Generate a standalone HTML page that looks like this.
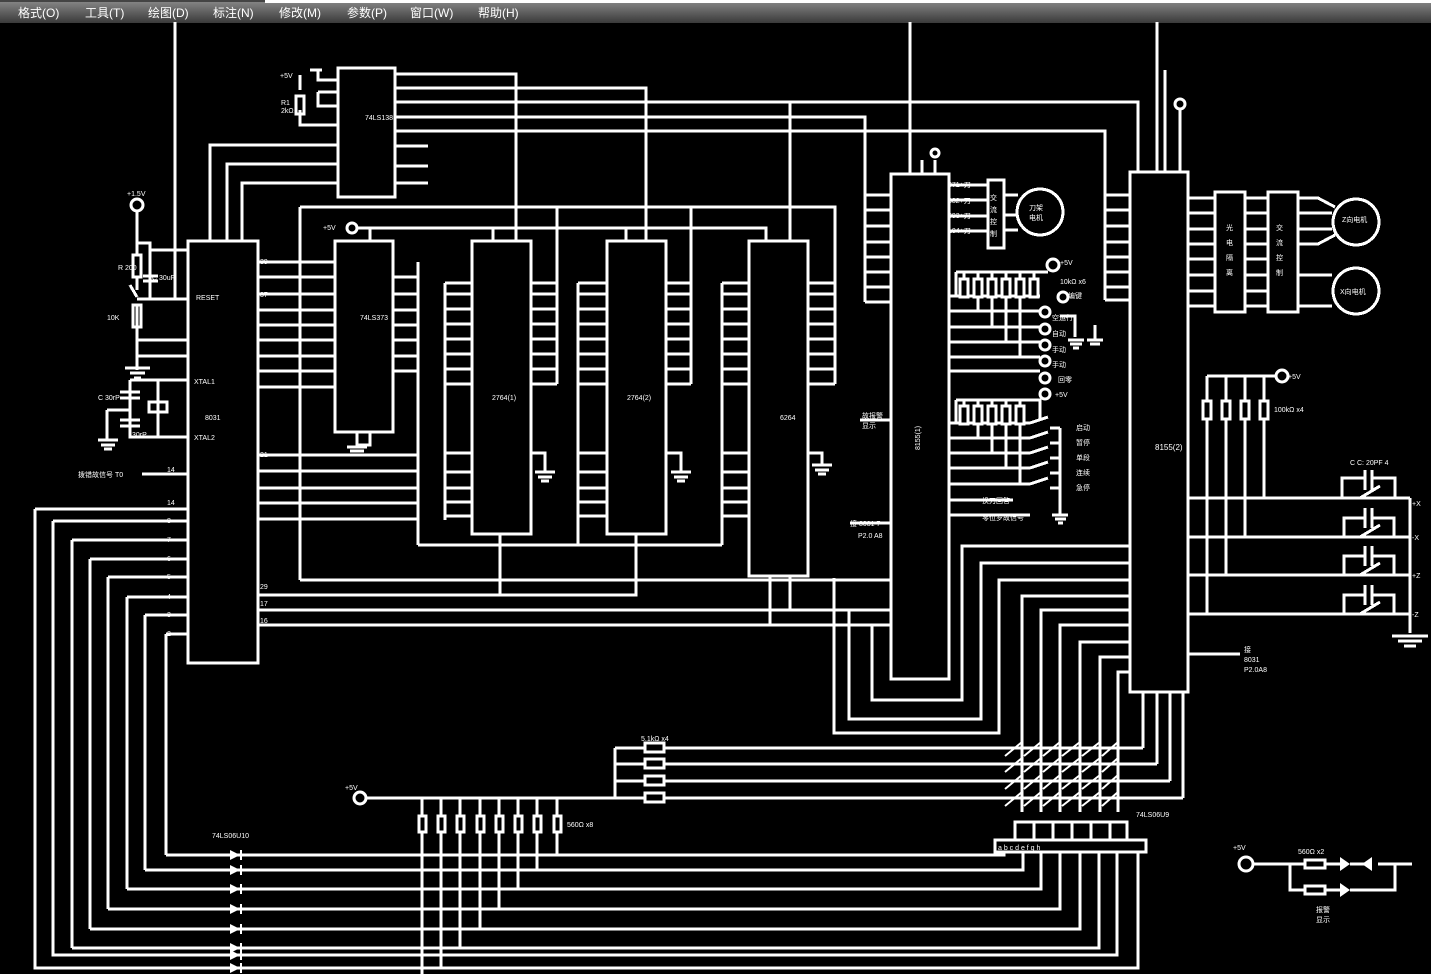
<!DOCTYPE html>
<html><head><meta charset="utf-8"><style>
html,body{margin:0;padding:0;background:#000;width:1431px;height:974px;overflow:hidden}
svg{display:block}
text{font-family:"Liberation Sans","Noto Sans CJK SC",sans-serif;fill:#fff}
</style></head><body>
<svg width="1431" height="974" viewBox="0 0 1431 974" xmlns="http://www.w3.org/2000/svg">
<defs><linearGradient id="mb" x1="0" y1="0" x2="0" y2="1"><stop offset="0" stop-color="#8a8a8a"/><stop offset="1" stop-color="#3a3a3a"/></linearGradient></defs>
<rect x="0" y="0" width="1431" height="974" fill="#000"/>
<rect x="0" y="0" width="1431" height="23" fill="url(#mb)"/>
<rect x="0" y="0" width="265" height="2" fill="#444"/>
<rect x="265" y="0" width="1166" height="3" fill="#fff"/>
<g font-size="12" style="fill:#fff">
<text x="18" y="17">格式(O)</text><text x="85" y="17">工具(T)</text><text x="148" y="17">绘图(D)</text><text x="213" y="17">标注(N)</text><text x="279" y="17">修改(M)</text><text x="347" y="17">参数(P)</text><text x="410" y="17">窗口(W)</text><text x="478" y="17">帮助(H)</text>
</g>
<g stroke="#fff" stroke-width="3" fill="none" shape-rendering="crispEdges">
<rect x="188" y="241" width="70" height="422"/>
<rect x="338" y="68" width="57" height="129"/>
<rect x="335" y="241" width="58" height="191"/>
<rect x="472" y="241" width="59" height="293"/>
<rect x="607" y="241" width="59" height="293"/>
<rect x="749" y="241" width="59" height="335"/>
<rect x="891" y="174" width="58" height="505"/>
<rect x="1130" y="172" width="58" height="520"/>
<path d="M175 22V298M910 22V174M1157 22V172M922 160V174M935 160V174M1165 70V172M1180 110V172"/>
<path d="M137 211V243H150V299M137 243V255M137 277V290M130 285L137 297M137 305V327M137 327V370M137 340H188M137 356H188M137 299H188M150 250H188M125 368H150M130 373H145M134 378H141"/>
<rect x="133" y="255" width="8" height="22"/>
<rect x="133" y="305" width="8" height="22"/>
<path d="M143 276H158M143 281H158"/>
<path d="M130 380H188M130 380V437H188M158 380V437M120 392H140M120 398H140M120 420H140M120 426H140M107 410H130M107 410V440M98 440H118M101 445H115M104 449H112"/>
<rect x="149" y="402" width="18" height="10"/>
<path d="M142 474H188"/>
<path d="M210 241V145H338M227 241V164H338M242 241V183H338"/>
<path d="M338 80H318V70M338 92H318M338 106H318V92M338 125H300V110M300 90V80M300 80V75M310 70H322M395 74H516V241M395 88H646V241M395 102H1138V172M395 117H865V302M395 131H1105V300M395 146H428M395 166H428M395 183H428"/>
<rect x="296" y="96" width="8" height="18"/>
<path d="M258 262H335M258 277H335M258 294H335M258 310H335M258 325H335M258 340H335M258 356H335M258 371H335M258 387H335M300 207V580M300 207H835V384M300 580H891"/>
<path d="M258 455H418M258 471H418M258 488H418M258 503H418M258 519H418"/>
<path d="M358 228H766V241M370 228V241M493 228V241M626 228V241"/>
<path d="M357 432V445H370V432M347 447H367M350 451H364M353 455H361"/>
<path d="M393 277H418M393 294H418M393 310H418M393 325H418M393 340H418M393 356H418M393 371H418M418 262V545M418 545H722"/>
<path d="M445 283V520M445 283H472M445 294H472M445 309H472M445 324H472M445 339H472M445 354H472M445 369H472M445 384H472M445 453H472M445 472H472M445 488H472M445 502H472M445 516H472"/>
<path d="M531 283H557M531 294H557M531 309H557M531 324H557M531 339H557M531 354H557M531 369H557M531 384H557M557 207V384"/>
<path d="M531 453H545V472M535 472H555M538 477H552M541 481H549M500 534V595"/>
<path d="M578 283V545M578 283H607M578 294H607M578 309H607M578 324H607M578 339H607M578 354H607M578 369H607M578 384H607M578 453H607M578 472H607M578 488H607M578 502H607M578 516H607"/>
<path d="M666 283H691M666 294H691M666 309H691M666 324H691M666 339H691M666 354H691M666 369H691M666 384H691M691 207V384"/>
<path d="M666 453H681V472M671 472H691M674 477H688M677 481H685M636 534V595H258"/>
<path d="M722 283V545M722 283H749M722 294H749M722 309H749M722 324H749M722 339H749M722 354H749M722 369H749M722 384H749M722 453H749M722 472H749M722 488H749M722 502H749M722 516H749"/>
<path d="M808 283H835M808 294H835M808 309H835M808 324H835M808 339H835M808 354H835M808 369H835M808 384H835"/>
<path d="M808 453H822V465M812 465H832M815 470H829M818 474H826M790 102V241M770 576V625M790 576V610"/>
<path d="M258 610H891M258 625H891"/>
<path d="M865 195H891M865 210H891M865 226H891M865 242H891M865 257H891M865 272H891M865 287H891M865 302H891"/>
<path d="M834 578V733H999V580H1130M849 610V719H981V563H1130M872 625V700H962V546H1130"/>
<path d="M949 185H988M949 200H988M949 216H988M949 231H988M1004 195H1018M1004 215H1018M1004 230H1018"/>
<rect x="988" y="180" width="16" height="68"/>
<circle cx="1040" cy="212" r="23"/>
<path d="M949 296H1040M949 311H1040M949 327H1040M949 342H1040M949 357H1040M949 371H1040M956 272H1048M956 272V296"/>
<path d="M964 272V296M978 272V311M992 272V327M1006 272V342M1020 272V357M1034 272V296"/>
<rect x="960" y="279" width="8" height="18" fill="#000"/><rect x="974" y="279" width="8" height="18" fill="#000"/><rect x="988" y="279" width="8" height="18" fill="#000"/><rect x="1002" y="279" width="8" height="18" fill="#000"/><rect x="1016" y="279" width="8" height="18" fill="#000"/><rect x="1030" y="279" width="8" height="18" fill="#000"/>
<path d="M1060 316L1075 316V337M1068 340H1084M1070 344H1082M1073 348H1079M1095 325V340M1087 340H1103M1090 344H1100"/>
<path d="M949 423H1030M949 438H1030M949 453H1030M949 468H1030M949 484H1030M949 500H1013M949 515H1030M956 400H1040V420M956 400V423M964 400V423M978 400V438M992 400V453M1006 400V468M1020 400V484"/>
<rect x="960" y="406" width="8" height="18" fill="#000"/><rect x="974" y="406" width="8" height="18" fill="#000"/><rect x="988" y="406" width="8" height="18" fill="#000"/><rect x="1002" y="406" width="8" height="18" fill="#000"/><rect x="1016" y="406" width="8" height="18" fill="#000"/>
<path d="M1030 423L1048 417M1030 438L1048 432M1030 453L1048 447M1030 468L1048 462M1030 484L1048 478M1050 428H1060M1050 443H1060M1050 458H1060M1050 473H1060M1050 488H1060M1060 428V515M1052 515H1068M1055 519H1066M1058 523H1063"/>
<path d="M860 420H891M850 523H891"/>
<path d="M1105 195H1130M1105 210H1130M1105 226H1130M1105 242H1130M1105 257H1130M1105 272H1130M1105 287H1130M1105 300H1130"/>
<path d="M1188 198H1215M1188 213H1215M1188 229H1215M1188 244H1215M1188 259H1215M1188 275H1215M1188 291H1215M1188 306H1215M1245 198H1268M1245 213H1268M1245 229H1268M1245 244H1268M1245 259H1268M1245 275H1268M1245 291H1268M1245 306H1268M1298 198H1318L1335 207M1298 213H1332M1298 229H1332M1298 244H1318L1335 235M1298 275H1332M1298 306H1332"/>
<rect x="1215" y="192" width="30" height="120"/>
<rect x="1268" y="192" width="30" height="120"/>
<circle cx="1356" cy="222" r="23"/>
<circle cx="1356" cy="291" r="23"/>
<path d="M1130 596H1022V812M1130 610H1041V812M1130 625H1060V812M1130 642H1080V812M1130 657H1100V812M1130 672H1118V812M1188 654H1240"/>
<path d="M1143 692V748M1157 692V764M1170 692V781M1183 692V798M615 748H1143M615 764H1157M615 781H1170M360 798H1183M615 748V798"/>
<rect x="645" y="743" width="19" height="9" fill="#000"/><rect x="645" y="759" width="19" height="9" fill="#000"/><rect x="645" y="776" width="19" height="9" fill="#000"/><rect x="645" y="793" width="19" height="9" fill="#000"/>
<path d="M1188 498H1410M1188 537H1410M1188 575H1410M1188 614H1410M1410 498V633M1392 636H1428M1398 641H1422M1404 646H1416M1207 376H1276M1207 376V614M1226 376V575M1245 376V537M1264 376V498"/>
<rect x="1203" y="401" width="8" height="18" fill="#000"/><rect x="1222" y="401" width="8" height="18" fill="#000"/><rect x="1241" y="401" width="8" height="18" fill="#000"/><rect x="1260" y="401" width="8" height="18" fill="#000"/>
<path d="M1342 498V478H1365M1372 478H1395V498M1365 470V490M1372 470V490M1360 498L1380 486"/>
<path d="M1344 537V518H1365M1372 518H1394V537M1365 508V528M1372 508V528M1360 537L1380 525"/>
<path d="M1344 575V556H1365M1372 556H1394V575M1365 546V566M1372 546V566M1360 575L1380 563"/>
<path d="M1344 614V595H1365M1372 595H1394V614M1365 585V605M1372 585V605M1360 614L1380 602"/>
<path d="M35 509H188M53 521H188M72 540H188M90 559H188M108 577H188M127 597H188M145 615H188M166 634H188"/>
<path d="M35 509V968H1138V852M53 521V955H1117V852M72 540V948M90 559V929M108 577V909M127 597V889M145 615V870M166 634V855"/>
<path d="M72 948H1099V852M90 929H1080V852M108 909H1060V852M127 889H1041V852M145 870H1023V852M166 855H1004V852"/>
<path d="M422 798V974M441 798V967M460 798V948M480 798V929M499 798V909M518 798V889M537 798V870M557 798V855"/>
<rect x="419" y="816" width="7" height="16" fill="#000"/><rect x="438" y="816" width="7" height="16" fill="#000"/><rect x="457" y="816" width="7" height="16" fill="#000"/><rect x="477" y="816" width="7" height="16" fill="#000"/><rect x="496" y="816" width="7" height="16" fill="#000"/><rect x="515" y="816" width="7" height="16" fill="#000"/><rect x="534" y="816" width="7" height="16" fill="#000"/><rect x="554" y="816" width="7" height="16" fill="#000"/>
<rect x="995" y="840" width="151" height="12" fill="#000"/>
<rect x="1015" y="822" width="112" height="18"/>
<path d="M1034 822V840M1053 822V840M1072 822V840M1091 822V840M1110 822V840"/>
<path d="M1252 864H1305M1325 864H1340M1350 864H1365M1378 864H1412M1290 864V890H1305M1325 890H1340M1350 890H1395V864"/>
<rect x="1305" y="860" width="20" height="8"/><rect x="1305" y="886" width="20" height="8"/>
</g>
<g fill="#fff">
<path d="M1340 857L1350 864L1340 871Z M1340 883L1350 890L1340 897Z M1372 857L1362 864L1372 871Z"/>
<path d="M230 850L240 855L230 860Z M230 865L240 870L230 875Z M230 884L240 889L230 894Z M230 904L240 909L230 914Z M230 924L240 929L230 934Z M230 943L240 948L230 953Z M230 950L240 955L230 960Z M230 963L240 968L230 973Z"/>
</g>
<g stroke="#fff" stroke-width="2" fill="none">
<path d="M1005 756L1022 742M1024 756L1041 742M1043 756L1060 742M1062 756L1080 742M1082 756L1100 742M1102 756L1118 742"/>
<path d="M1005 772L1022 758M1024 772L1041 758M1043 772L1060 758M1062 772L1080 758M1082 772L1100 758M1102 772L1118 758"/>
<path d="M1005 789L1022 775M1024 789L1041 775M1043 789L1060 775M1062 789L1080 775M1082 789L1100 775M1102 789L1118 775"/>
<path d="M1005 806L1022 792M1024 806L1041 792M1043 806L1060 792M1062 806L1080 792M1082 806L1100 792M1102 806L1118 792"/>
<path d="M241 850V860M241 865V875M241 884V894M241 904V914M241 924V934M241 943V953M241 950V960M241 963V973"/>
</g>
<g stroke="#fff" stroke-width="3" fill="#000">
<circle cx="137" cy="205" r="6"/><circle cx="352" cy="228" r="5"/><circle cx="935" cy="153" r="4"/><circle cx="1180" cy="104" r="5"/>
<circle cx="1053" cy="265" r="6"/><circle cx="1282" cy="376" r="6"/><circle cx="360" cy="798" r="6"/><circle cx="1246" cy="864" r="7"/>
<circle cx="1045" cy="312" r="5"/><circle cx="1045" cy="329" r="5"/><circle cx="1045" cy="345" r="5"/><circle cx="1045" cy="361" r="5"/><circle cx="1045" cy="378" r="5"/><circle cx="1045" cy="394" r="5"/><circle cx="1063" cy="297" r="5"/>
</g>
<g font-size="7">
<text x="127" y="196">+1.5V</text><text x="118" y="270">R 200</text><text x="152" y="280">C 30uF</text><text x="107" y="320">10K</text>
<text x="98" y="400">C 30rP</text><text x="132" y="437">30rP</text><text x="196" y="300">RESET</text><text x="194" y="384">XTAL1</text><text x="194" y="440">XTAL2</text>
<text x="78" y="477">拨错故信号  T0</text><text x="280" y="78">+5V</text><text x="281" y="105">R1</text><text x="281" y="113">2kΩ</text>
<text x="260" y="264">39</text><text x="260" y="297">37</text><text x="260" y="457">21</text><text x="260" y="589">29</text><text x="260" y="606">17</text><text x="260" y="623">16</text>
<text x="167" y="472">14</text><text x="167" y="505">14</text><text x="167" y="523">8</text><text x="167" y="542">7</text><text x="167" y="561">6</text><text x="167" y="579">5</text><text x="167" y="599">4</text><text x="167" y="617">3</text><text x="167" y="636">2</text>
<text x="212" y="838">74LS06U10</text><text x="641" y="741">5.1kΩ x4</text><text x="567" y="827">560Ω x8</text><text x="345" y="790">+5V</text>
<text x="1136" y="817">74LS06U9</text><text x="1233" y="850">+5V</text><text x="1298" y="854">560Ω x2</text><text x="1316" y="912">报警</text><text x="1316" y="922">显示</text>
<text x="323" y="230">+5V</text><text x="948" y="187">371+刀</text><text x="948" y="203">382+刀</text><text x="948" y="218">393+刀</text><text x="948" y="233">104+刀</text>
<text x="1029" y="210">刀架</text><text x="1029" y="220">电机</text><text x="1342" y="222">Z向电机</text><text x="1340" y="294">X向电机</text>
<text x="1068" y="298">编键</text><text x="1052" y="320">空运行</text><text x="1052" y="336">自动</text><text x="1052" y="352">手动</text><text x="1052" y="367">手动</text><text x="1058" y="382">回零</text><text x="1055" y="397">+5V</text>
<text x="1076" y="430">启动</text><text x="1076" y="445">暂停</text><text x="1076" y="460">单段</text><text x="1076" y="475">连续</text><text x="1076" y="490">急停</text>
<text x="982" y="503">换刀回答</text><text x="982" y="520">零位罗故信号</text><text x="862" y="418">故报警</text><text x="862" y="428">显示</text><text x="850" y="526">接 8031 7</text><text x="858" y="538">P2.0 A8</text>
<text x="1060" y="284">10kΩ x6</text><text x="1060" y="265">+5V</text><text x="1288" y="379">+5V</text><text x="1274" y="412">100kΩ x4</text><text x="1350" y="465">C  C: 20PF 4</text>
<text x="1412" y="506">+X</text><text x="1412" y="540">-X</text><text x="1412" y="578">+Z</text><text x="1412" y="617">-Z</text><text x="1244" y="652">接</text><text x="1244" y="662">8031</text><text x="1244" y="672">P2.0A8</text>
<text x="920" y="450" transform="rotate(-90 920 450)">8155(1)</text>
<text x="1155" y="450" font-size="8">8155(2)</text><text x="780" y="420">6264</text><text x="492" y="400">2764(1)</text><text x="627" y="400">2764(2)</text><text x="360" y="320">74LS373</text><text x="365" y="120">74LS138</text><text x="205" y="420">8031</text>
<text x="998" y="850">a  b   c   d   e   f   g   h</text>
<text x="990" y="200">交</text><text x="990" y="212">流</text><text x="990" y="224">控</text><text x="990" y="236">制</text>
<text x="1226" y="230">光</text><text x="1226" y="245">电</text><text x="1226" y="260">隔</text><text x="1226" y="275">离</text>
<text x="1276" y="230">交</text><text x="1276" y="245">流</text><text x="1276" y="260">控</text><text x="1276" y="275">制</text>
</g>
</svg>
</body></html>
